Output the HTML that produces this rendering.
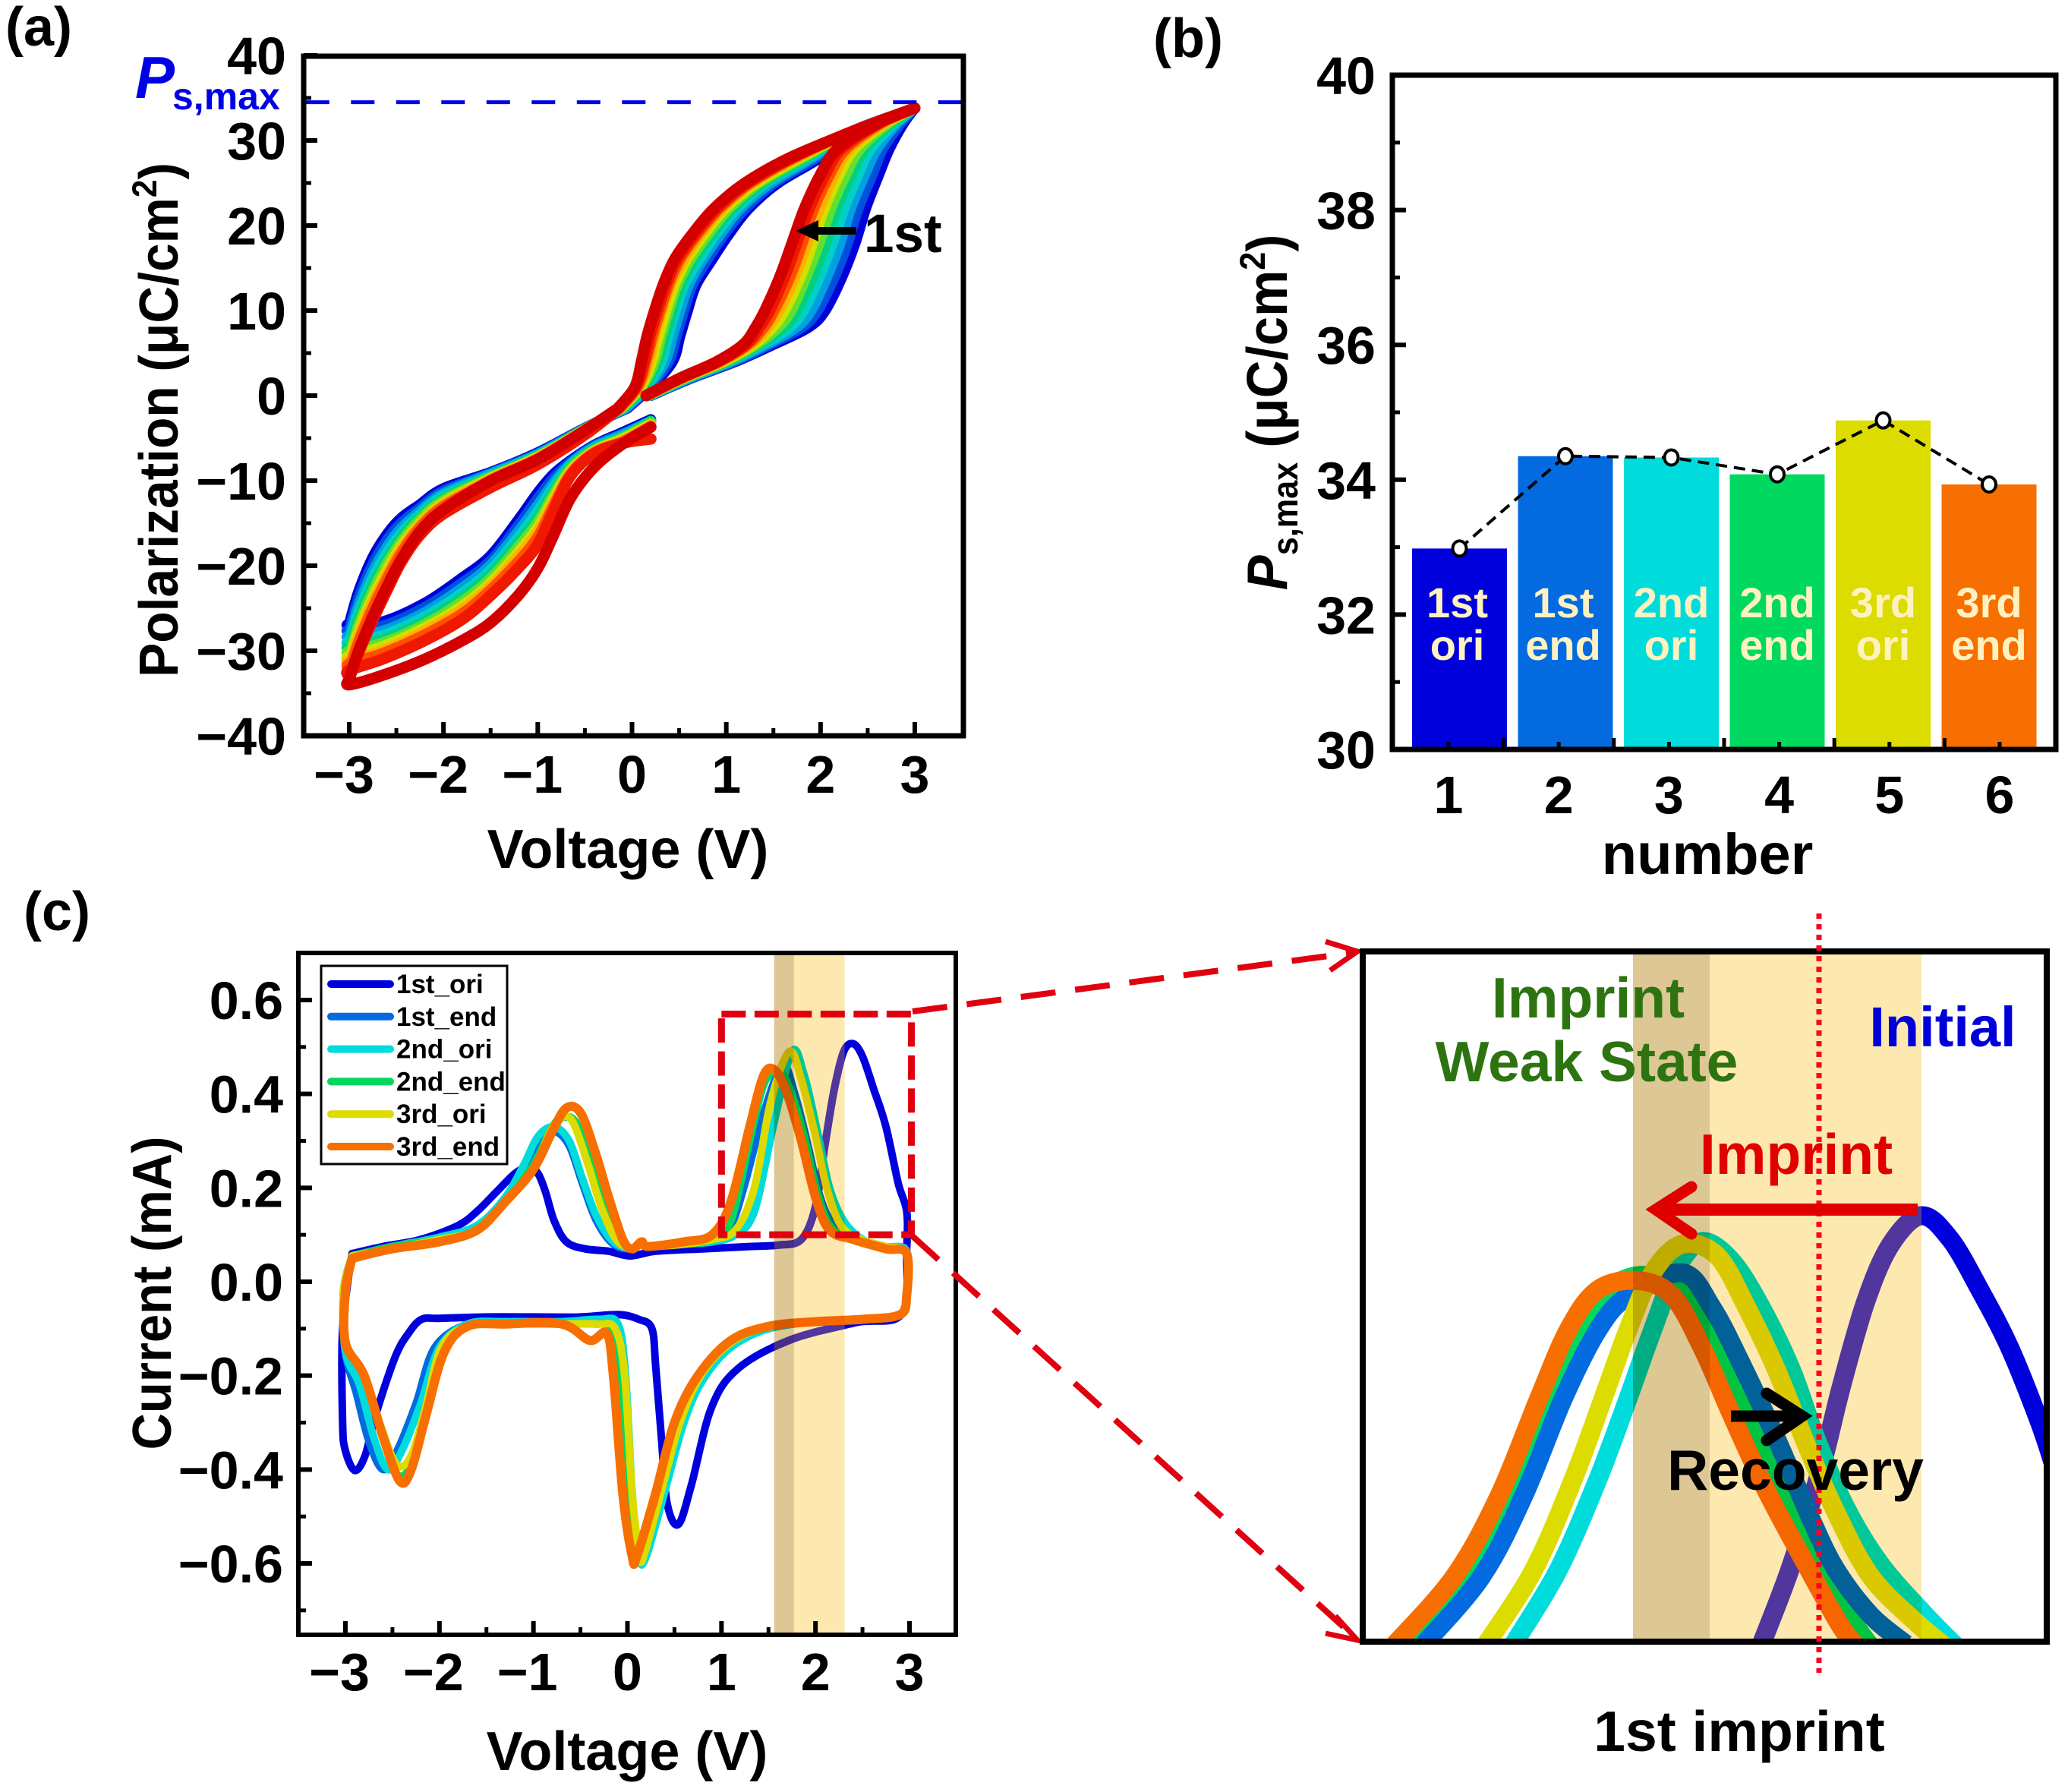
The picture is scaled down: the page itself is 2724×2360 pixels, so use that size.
<!DOCTYPE html>
<html lang="en">
<head>
<meta charset="utf-8">
<title>Polarization and imprint figure</title>
<style>
html,body{margin:0;padding:0;background:#fff;}
svg{display:block;font-family:"Liberation Sans",sans-serif;font-weight:bold;}
text{fill:#000;}
.mult{mix-blend-mode:multiply;}
</style>
</head>
<body>
<svg xmlns="http://www.w3.org/2000/svg" width="2724" height="2360" viewBox="0 0 2724 2360">
<defs>
<clipPath id="clip-d"><rect x="1795" y="1253" width="901" height="909"/></clipPath>
<clipPath id="clip-d-band"><rect x="2151" y="1253" width="380" height="909"/></clipPath>
<clipPath id="clip-c-band"><rect id="clip-c-band-rect" y="1255" height="898"/></clipPath>
<clipPath id="clip-a"><rect x="400" y="74" width="869" height="895"/></clipPath>
</defs>
<rect x="0" y="0" width="2724" height="2360" fill="#fff"/>

<!-- Panel A -->
<g>
<text x="7" y="60" font-size="72">(a)</text>
<g id="a-curves" clip-path="url(#clip-a)"></g>
<line id="a-ref" x1="400" x2="1269" stroke="#0000e6" stroke-width="5" stroke-dasharray="31 28.5" stroke-dashoffset="-2.8"/>
<g id="a-ticks"></g>
<rect x="400" y="74" width="869" height="895" fill="none" stroke="#000" stroke-width="7"/>
<text x="178" y="129" font-size="78" font-style="italic" style="fill:#0000e6">P</text>
<text x="227" y="144" font-size="50" style="fill:#0000e6">s,max</text>
<text x="827" y="1143" font-size="72" text-anchor="middle">Voltage (V)</text>
<text transform="translate(234,553) rotate(-90) scale(.94,1)" font-size="72" text-anchor="middle">Polarization (μC/cm<tspan font-size="45" dy="-28">2</tspan><tspan dy="28">)</tspan></text>
<line x1="1128" y1="304" x2="1070" y2="304" stroke="#000" stroke-width="10"/>
<polygon points="1048,304 1078,290 1078,318" fill="#000"/>
<text x="1138" y="332" font-size="71">1st</text>
</g>

<!-- Panel B -->
<g>
<text x="1519" y="75" font-size="72">(b)</text>
<g id="b-bars"></g>
<g id="b-ticks"></g>
<path id="b-line" fill="none" stroke="#000" stroke-width="4" stroke-dasharray="15 9"/>
<g id="b-points"></g>
<g id="b-labels"></g>
<rect x="1834" y="99" width="874" height="888" fill="none" stroke="#000" stroke-width="7"/>
<text x="2249" y="1151" font-size="76" text-anchor="middle">number</text>
<text transform="translate(1695,543) rotate(-90) scale(.92,1)" font-size="75" text-anchor="middle"><tspan font-style="italic">P</tspan><tspan font-size="47" dy="14">s,max</tspan><tspan dy="-14"> (μC/cm</tspan><tspan font-size="47" dy="-29">2</tspan><tspan dy="29">)</tspan></text>
</g>

<!-- Panel C -->
<g>
<text x="31" y="1225" font-size="72">(c)</text>
<g id="c-curves"></g>
<rect id="c-band-tan" class="mult" fill="#dcc795"/>
<rect id="c-band-yellow" class="mult" fill="#fde8b0"/>
<g id="c-ticks"></g>
<rect x="393" y="1255" width="866" height="898" fill="none" stroke="#000" stroke-width="6"/>
<g id="c-legend">
<rect x="423" y="1272" width="245" height="261" fill="#fff" stroke="#000" stroke-width="3"/>
</g>
<rect id="c-box" fill="none" stroke="#e00010" stroke-width="9" stroke-dasharray="32 11.5"/>
<text x="826" y="2331" font-size="72" text-anchor="middle">Voltage (V)</text>
<text transform="translate(225,1703) rotate(-90) scale(.93,1)" font-size="72" text-anchor="middle">Current (mA)</text>
<path d="M1202 1332 L1780 1255" fill="none" stroke="#e00010" stroke-width="8" stroke-dasharray="46 26"/>
<path d="M1202 1628 L1780 2152" fill="none" stroke="#e00010" stroke-width="8" stroke-dasharray="46 26"/>
<path d="M1746 1240 L1788 1253 L1752 1278" fill="none" stroke="#e00010" stroke-width="7"/>
<path d="M1746 2151 L1788 2160 L1759 2128" fill="none" stroke="#e00010" stroke-width="7"/>
</g>

<!-- Panel D (zoomed) -->
<g>
<g id="d-curves" clip-path="url(#clip-d)"></g>
<rect id="d-band-tan" class="mult" fill="#dcc795"/>
<rect id="d-band-yellow" class="mult" fill="#fde8b0"/>
<rect x="1795" y="1253" width="901" height="909" fill="none" stroke="#000" stroke-width="8"/>
<line x1="2396" y1="1203" x2="2396" y2="2203" stroke="#ff0020" stroke-width="7" stroke-dasharray="7 7"/>
<text x="2092" y="1340" font-size="75" text-anchor="middle" style="fill:#2d7410">Imprint</text>
<text x="2090" y="1424" font-size="75" text-anchor="middle" style="fill:#2d7410">Weak State</text>
<text x="2559" y="1378" font-size="74" text-anchor="middle" style="fill:#0000d8">Initial</text>
<text x="2366" y="1546" font-size="75" text-anchor="middle" style="fill:#e00000">Imprint</text>
<path d="M2526 1593 L2190 1593" fill="none" stroke="#e00000" stroke-width="16"/>
<path d="M2228 1563 L2181 1593 L2228 1625" fill="none" stroke="#e00000" stroke-width="15" stroke-linecap="round" stroke-linejoin="miter" stroke-miterlimit="8"/>
<path d="M2280 1865 L2365 1865" fill="none" stroke="#000" stroke-width="15"/>
<path d="M2327 1835 L2374 1865 L2327 1897" fill="none" stroke="#000" stroke-width="15" stroke-linecap="round" stroke-linejoin="miter" stroke-miterlimit="8"/>
<text x="2365" y="1962" font-size="75" text-anchor="middle">Recovery</text>
<text x="2291" y="2306" font-size="75" text-anchor="middle">1st imprint</text>
</g>
</svg>

<script>
// ---------- Panel (a) data: polarization loops, first cycle to last ----------
const aXTicks = [-3,-2,-1,0,1,2,3];
const aYTicks = [-40,-30,-20,-10,0,10,20,30,40];
const aXMinor = [-2.5,-1.5,-0.5,0.5,1.5,2.5];
const aYMinor = [-35,-25,-15,-5,5,15,25,35];
const psMaxLine = 34.5;
const loopColors = ['#0000d8','#0050e0','#00a0e0','#00d0c8','#00d080','#60e030','#d0e000','#ffb000','#ff5000','#f01800','#d40000'];
const risingP = [0,2,4,6,8,10,14,18,22,26,29,32,33.8];
const risingV = [
[.2,.62,1.1,1.5,1.87,2.05,2.23,2.37,2.48,2.62,2.73,2.88,3],
[.19,.61,1.08,1.46,1.8,1.97,2.15,2.29,2.4,2.55,2.66,2.85,3],
[.19,.59,1.05,1.42,1.74,1.9,2.07,2.21,2.32,2.47,2.6,2.81,3],
[.18,.58,1.03,1.38,1.67,1.82,1.99,2.13,2.25,2.4,2.53,2.78,3],
[.18,.56,1.01,1.35,1.61,1.75,1.92,2.06,2.17,2.33,2.47,2.75,3],
[.17,.55,.99,1.32,1.55,1.69,1.85,1.99,2.11,2.27,2.42,2.72,3],
[.17,.54,.97,1.29,1.49,1.62,1.79,1.92,2.04,2.2,2.36,2.69,3],
[.16,.53,.95,1.26,1.44,1.56,1.73,1.86,1.99,2.15,2.31,2.67,3],
[.16,.52,.93,1.23,1.4,1.51,1.68,1.81,1.93,2.1,2.27,2.64,3],
[.15,.51,.92,1.21,1.35,1.46,1.62,1.75,1.88,2.05,2.22,2.62,3],
[.15,.5,.9,1.18,1.31,1.41,1.57,1.7,1.83,2,2.18,2.6,3]
];
const fallingP = [33.8,31,28,25,22,19,16,13,10,7,4,1,-1.5];
const fallingV = [
[3,2.32,2,1.55,1.24,1.03,.85,.68,.59,.51,.43,.2,-.05],
[3,2.32,1.96,1.51,1.2,.98,.8,.64,.55,.47,.39,.18,-.06],
[3,2.32,1.92,1.47,1.15,.94,.75,.6,.51,.43,.35,.16,-.07],
[3,2.32,1.88,1.42,1.11,.89,.71,.55,.46,.38,.31,.14,-.09],
[3,2.32,1.85,1.39,1.07,.85,.66,.52,.43,.35,.27,.12,-.1],
[3,2.32,1.82,1.35,1.03,.81,.62,.48,.39,.31,.24,.1,-.11],
[3,2.32,1.79,1.32,.99,.77,.58,.45,.36,.28,.21,.09,-.12],
[3,2.32,1.76,1.28,.96,.73,.55,.41,.32,.24,.18,.07,-.13],
[3,2.32,1.73,1.26,.93,.7,.51,.39,.3,.22,.15,.06,-.13],
[3,2.32,1.71,1.23,.9,.67,.48,.36,.27,.19,.13,.04,-.14],
[3,2.33,1.68,1.2,.87,.64,.45,.33,.24,.16,.1,.03,-.15]
];
const descendV = [-.5,-1,-1.5,-2,-2.25,-2.45,-2.6,-2.75,-2.9,-3];
const descendP = [
[-3.8,-6.7,-9,-10.9,-12.8,-14.4,-16.3,-19,-23,-26.8],
[-3.8,-6.8,-9.1,-11.2,-13.2,-15,-17,-19.8,-23.8,-27.6],
[-3.9,-6.9,-9.2,-11.5,-13.6,-15.6,-17.8,-20.7,-24.7,-28.4],
[-3.9,-7,-9.4,-11.8,-14,-16.2,-18.5,-21.5,-25.5,-29.2],
[-3.9,-7.1,-9.5,-12.1,-14.3,-16.7,-19.2,-22.3,-26.3,-29.9],
[-4,-7.2,-9.6,-12.3,-14.6,-17.2,-19.8,-23,-27,-30.6],
[-4,-7.2,-9.7,-12.6,-15,-17.7,-20.5,-23.7,-27.7,-31.2],
[-4,-7.3,-9.8,-12.8,-15.2,-18.1,-21,-24.3,-28.3,-31.8],
[-4.1,-7.4,-10,-13,-15.5,-18.5,-21.5,-24.9,-28.9,-32.3],
[-4.6,-8.1,-10.8,-13.9,-16.4,-19.6,-22.9,-26.4,-30.2,-33],
[-4.1,-7.5,-10,-13.4,-16,-19.3,-22.5,-26,-30,-33.4]
];
const returnV = [-3,-2.65,-2.2,-1.8,-1.5,-1.2,-1,-.84,-.65,-.4,-.1,.2];
const returnP = [
[-27,-26.6,-24.4,-21.4,-18.8,-14.5,-11.4,-9.3,-7.6,-5.8,-4.3,-2.8],
[-27.6,-27.1,-24.9,-22,-19.4,-15.2,-12.1,-9.8,-7.8,-5.9,-4.5,-3],
[-28.3,-27.7,-25.5,-22.6,-19.9,-15.9,-12.9,-10.4,-8,-6,-4.6,-3],
[-28.9,-28.2,-26,-23.2,-20.5,-16.6,-13.6,-10.9,-8.2,-6.2,-4.8,-3],
[-29.5,-28.7,-26.5,-23.7,-21,-17.2,-14.3,-11.4,-8.4,-6.3,-4.9,-3],
[-30,-29.1,-26.9,-24.2,-21.5,-17.7,-14.9,-11.8,-8.6,-6.4,-5,-3.2],
[-30.6,-29.5,-27.3,-24.7,-22,-18.3,-15.5,-12.3,-8.8,-6.5,-5.1,-3.4],
[-31.1,-30,-27.7,-25.1,-22.4,-18.8,-16,-12.7,-9,-6.6,-5.3,-3.5],
[-31.5,-30.3,-28.1,-25.6,-22.8,-19.4,-16.6,-13.1,-9.2,-6.7,-5.4,-3.6],
[-32.3,-31,-28.8,-26.3,-23.5,-20.2,-17.5,-13.7,-9.4,-6.8,-5.6,-5.1],
[-34,-32.9,-31,-28.8,-26.7,-23.4,-20.3,-16.6,-12,-8.4,-5.7,-3.7]
];

// ---------- Panel (b) data ----------
const bCategories = [1,2,3,4,5,6];
const bValues = [32.98,34.35,34.33,34.08,34.88,33.93];
const bColors = ['#0000dc','#036ae0','#00dcdc','#00d860','#dcdc00','#f76f00'];
const bLineOne = ['1st','1st','2nd','2nd','3rd','3rd'];
const bLineTwo = ['ori','end','ori','end','ori','end'];
const bYTicks = [30,32,34,36,38,40];
const bYMinor = [31,33,35,37,39];
const bXMinor = [1.5,2.5,3.5,4.5,5.5];

// ---------- Panel (c) data: current vs voltage sweeps ----------
const cXTicks = [-3,-2,-1,0,1,2,3];
const cYTicks = [-0.6,-0.4,-0.2,0,0.2,0.4,0.6];
const cXMinor = [-2.5,-1.5,-0.5,0.5,1.5,2.5];
const cYMinor = [-0.7,-0.5,-0.3,-0.1,0.1,0.3,0.5];
const seriesNames = ['1st_ori','1st_end','2nd_ori','2nd_end','3rd_ori','3rd_end'];
const seriesColors = ['#0000dc','#036ae0','#00dcdc','#00d860','#dcdc00','#f76f00'];
const imprintBand = [1.56,1.77,2.31];
const zoomBoxV = [1.0,3.02];
const zoomBoxI = [0.57,0.10];
const ori1V = [-2.93,-2.6,-2.2,-1.8,-1.6,-1.4,-1.2,-1.05,-.95,-.87,-.78,-.65,-.45,-.2,.03,.3,.8,1.3,1.6,1.85,2.0,2.1,2.2,2.3,2.4,2.5,2.62,2.75,2.88,2.97,2.97,2.92,2.43,1.73,1.17,.89,.68,.54,.42,.36,.3,.26,.12,-.1,-.5,-1,-1.5,-2,-2.19,-2.33,-2.47,-2.68,-2.79,-2.9,-3,-3.03,-3.03,-2.93];
const ori1I = [.06,.075,.09,.12,.15,.19,.23,.245,.23,.19,.13,.085,.07,.065,.055,.065,.07,.075,.078,.09,.16,.29,.41,.49,.507,.48,.41,.33,.21,.15,.07,-.068,-.087,-.124,-.186,-.27,-.433,-.517,-.47,-.33,-.18,-.1,-.08,-.07,-.075,-.075,-.075,-.078,-.08,-.11,-.16,-.285,-.37,-.402,-.36,-.3,-.1,.06];
const end1V = [-2.93,-2.5,-2,-1.6,-1.3,-1.1,-.95,-.78,-.62,-.48,-.33,-.15,.05,.15,.22,.6,.9,1.1,1.25,1.45,1.65,1.78,1.92,2.05,2.2,2.45,2.75,2.97,2.97,2.9,2.5,2,1.5,1.1,.78,.55,.36,.17,.1,.03,-.05,-.13,-.3,-.7,-1.3,-1.7,-2.05,-2.25,-2.45,-2.6,-2.75,-2.88,-3,-3.02,-2.93];
const end1I = [.055,.075,.09,.115,.17,.24,.3,.32,.29,.21,.13,.08,.07,.08,.075,.08,.09,.12,.21,.36,.46,.4,.29,.18,.12,.09,.07,.065,-.03,-.07,-.08,-.085,-.1,-.135,-.2,-.3,-.43,-.58,-.58,-.45,-.2,-.09,-.08,-.085,-.085,-.09,-.14,-.26,-.36,-.4,-.34,-.24,-.15,-.02,.055];
const ori2V = [-2.93,-2.5,-2,-1.6,-1.3,-1.1,-.95,-.78,-.62,-.48,-.33,-.15,.05,.15,.22,.6,.9,1.15,1.35,1.55,1.75,1.88,2.02,2.15,2.3,2.5,2.75,2.97,2.97,2.9,2.5,2,1.5,1.1,.8,.6,.42,.2,.12,.05,-.02,-.1,-.3,-.7,-1.3,-1.7,-2.0,-2.2,-2.4,-2.55,-2.7,-2.85,-3,-3.02,-2.93];
const ori2I = [.055,.075,.095,.12,.18,.25,.31,.33,.3,.22,.14,.085,.07,.08,.075,.08,.085,.1,.15,.33,.49,.44,.32,.2,.13,.09,.075,.065,-.03,-.07,-.08,-.085,-.1,-.14,-.21,-.3,-.43,-.585,-.585,-.45,-.2,-.09,-.08,-.085,-.085,-.09,-.14,-.26,-.36,-.4,-.33,-.22,-.15,-.02,.055];
const end2V = [-2.93,-2.5,-2,-1.6,-1.3,-1,-.8,-.68,-.55,-.4,-.25,-.1,.05,.15,.22,.6,.9,1.1,1.3,1.45,1.6,1.73,1.88,2.02,2.17,2.42,2.75,2.97,2.97,2.9,2.5,2,1.5,1.1,.76,.52,.33,.13,.07,0,-.08,-.18,-.35,-.7,-1.3,-1.7,-1.98,-2.15,-2.3,-2.45,-2.62,-2.8,-3,-3.02,-2.93];
const end2I = [.055,.075,.09,.11,.17,.25,.33,.35,.34,.26,.16,.09,.07,.08,.075,.08,.09,.13,.3,.42,.45,.41,.31,.19,.115,.09,.07,.06,-.03,-.07,-.08,-.085,-.095,-.13,-.2,-.3,-.44,-.58,-.58,-.45,-.2,-.1,-.09,-.09,-.09,-.095,-.15,-.29,-.39,-.41,-.32,-.2,-.13,-.02,.055];
const ori3V = [-2.93,-2.5,-2,-1.6,-1.3,-1,-.82,-.7,-.58,-.42,-.28,-.12,.05,.15,.22,.6,.9,1.15,1.35,1.52,1.72,1.85,2.0,2.12,2.27,2.48,2.75,2.97,2.97,2.9,2.5,2,1.5,1.1,.78,.56,.38,.18,.13,.05,-.03,-.13,-.32,-.7,-1.3,-1.7,-1.98,-2.15,-2.3,-2.45,-2.62,-2.8,-3,-3.02,-2.93];
const ori3I = [.055,.07,.09,.11,.17,.24,.32,.35,.34,.25,.16,.09,.07,.08,.075,.08,.09,.11,.2,.38,.49,.43,.31,.2,.12,.09,.075,.06,-.03,-.07,-.08,-.085,-.095,-.13,-.2,-.3,-.43,-.58,-.58,-.45,-.2,-.1,-.09,-.09,-.09,-.095,-.14,-.27,-.37,-.39,-.31,-.2,-.13,-.02,.055];
const end3V = [-2.93,-2.5,-2,-1.6,-1.3,-1,-.8,-.65,-.5,-.35,-.2,-.05,.05,.15,.22,.6,.9,1.1,1.3,1.45,1.57,1.7,1.85,2.0,2.15,2.4,2.75,2.97,2.97,2.9,2.5,2,1.5,1.1,.75,.5,.3,.1,.05,-.05,-.15,-.22,-.4,-.7,-1.3,-1.7,-1.95,-2.15,-2.3,-2.42,-2.6,-2.8,-3,-3,-2.93];
const end3I = [.05,.07,.085,.11,.17,.24,.32,.37,.36,.28,.18,.09,.07,.085,.075,.085,.1,.17,.33,.44,.45,.4,.3,.18,.11,.09,.07,.06,-.03,-.07,-.08,-.085,-.095,-.125,-.2,-.3,-.45,-.585,-.585,-.45,-.2,-.11,-.125,-.09,-.09,-.095,-.15,-.29,-.4,-.425,-.33,-.2,-.13,-.02,.05];

// ---------- Zoomed panel data: forward peak of each sweep, volts and mA ----------
const zoomOri1V = [1.894,1.972,2.049,2.101,2.165,2.230,2.309,2.384,2.461,2.539,2.616,2.655];
const zoomOri1I = [.175,.236,.311,.373,.439,.483,.505,.487,.448,.403,.346,.311];
const zoomOri2V = [1.250,1.366,1.469,1.547,1.611,1.675,1.740,1.817,1.894,1.972,2.036,2.113,2.204,2.320,2.410];
const zoomOri2I = [.175,.232,.302,.364,.417,.465,.485,.470,.434,.386,.333,.280,.236,.197,.170];
const zoomOri3V = [1.179,1.302,1.405,1.482,1.547,1.611,1.688,1.779,1.856,1.933,2.010,2.088,2.178,2.294,2.384];
const zoomOri3I = [.175,.232,.302,.364,.417,.461,.483,.474,.434,.386,.329,.276,.227,.192,.170];
const zoomEnd1V = [1.018,1.167,1.276,1.379,1.469,1.547,1.688,1.766,1.843,1.933,2.023,2.088,2.178,2.268];
const zoomEnd1I = [.175,.227,.289,.364,.417,.443,.461,.434,.390,.333,.271,.232,.197,.175];
const zoomEnd2V = [.96,1.118,1.236,1.34,1.417,1.495,1.585,1.695,1.775,1.852,1.94,2.04,2.125,2.18];
const zoomEnd2I = [.175,.227,.289,.364,.417,.448,.459,.448,.41,.36,.30,.24,.195,.172];
const zoomEnd3V = [.941,1.096,1.212,1.315,1.392,1.469,1.572,1.663,1.740,1.817,1.907,2.010,2.101,2.152];
const zoomEnd3I = [.1745,.227,.289,.364,.417,.448,.455,.443,.403,.351,.293,.236,.188,.170];

// ---------- Helpers ----------
const NS = 'http://www.w3.org/2000/svg';
function scale(d0,d1,r0,r1){ return function(v){ return r0 + (v-d0)*(r1-r0)/(d1-d0); }; }
function mk(tag,parent,attrs){
  const n = document.createElementNS(NS,tag);
  for(const k in attrs){ n.setAttribute(k,attrs[k]); }
  parent.appendChild(n);
  return n;
}
function smooth(p){
  let d = 'M'+p[0][0].toFixed(1)+' '+p[0][1].toFixed(1);
  for(let i=0;i<p.length-1;i++){
    const a=p[Math.max(i-1,0)], b=p[i], c=p[i+1], e=p[Math.min(i+2,p.length-1)];
    const c1x=b[0]+(c[0]-a[0])/6, c1y=b[1]+(c[1]-a[1])/6;
    const c2x=c[0]-(e[0]-b[0])/6, c2y=c[1]-(e[1]-b[1])/6;
    d+=' C'+c1x.toFixed(1)+' '+c1y.toFixed(1)+' '+c2x.toFixed(1)+' '+c2y.toFixed(1)+' '+c[0].toFixed(1)+' '+c[1].toFixed(1);
  }
  return d;
}
function fmt(v,dec){ const s=Math.abs(v).toFixed(dec); return (v<0?'\u2212':'')+s; }
function $(id){ return document.getElementById(id); }

// ---------- Panel (a) ----------
const xA = scale(-3,3,460,1205);
const yA = scale(-40,40,969,73);
$('a-ref').setAttribute('y1',yA(psMaxLine));
$('a-ref').setAttribute('y2',yA(psMaxLine));
loopColors.forEach(function(color,k){
  const A = risingV[k].map(function(v,i){ return [xA(v),yA(risingP[i])]; });
  const B = fallingV[k].map(function(v,i){ return [xA(v),yA(fallingP[i])]; });
  const C = descendP[k].map(function(p,i){ return [xA(descendV[i]),yA(p)]; });
  const D = returnP[k].map(function(p,i){ return [xA(returnV[i]),yA(p)]; });
  C.unshift(B[B.length-1]);
  D.unshift(C[C.length-1]);
  const path = mk('path',$('a-curves'),{d:smooth(A)+' '+smooth(B)+' '+smooth(C)+' '+smooth(D),fill:'none',stroke:color,'stroke-width':k>=9?15:14,'stroke-linecap':'round','stroke-linejoin':'round'});
  
  
});
aXTicks.forEach(function(v){
  const t = mk('line',$('a-ticks'),{x1:xA(v),x2:xA(v),y1:969,y2:951,stroke:'#000','stroke-width':6});
  
  
  const l = mk('text',$('a-ticks'),{x:xA(v)-(v<0?7:0),y:1044,'font-size':70,'text-anchor':'middle'});
  l.textContent = fmt(v,0);
  
  
});
aXMinor.forEach(function(v){
  const t = mk('line',$('a-ticks'),{x1:xA(v),x2:xA(v),y1:969,y2:959,stroke:'#000','stroke-width':5});
  
  
});
aYTicks.forEach(function(v){
  const t = mk('line',$('a-ticks'),{x1:400,x2:418,y1:yA(v),y2:yA(v),stroke:'#000','stroke-width':6});
  
  
  const l = mk('text',$('a-ticks'),{x:377,y:yA(v)+25,'font-size':70,'text-anchor':'end'});
  l.textContent = fmt(v,0);
  
  
});
aYMinor.forEach(function(v){
  const t = mk('line',$('a-ticks'),{x1:400,x2:410,y1:yA(v),y2:yA(v),stroke:'#000','stroke-width':5});
  
  
});

// ---------- Panel (b) ----------
const yB = scale(30,40,987,99);
const xBTick = scale(1,6,1908,2634);
const xBBar = scale(1,6,1922.5,2620);
const barWidth = 125;
bValues.forEach(function(v,i){
  const cat = bCategories[i];
  const bar = mk('rect',$('b-bars'),{x:xBBar(cat)-barWidth/2,y:yB(v),width:barWidth,height:yB(30)-yB(v),fill:bColors[i]});
  
  
  const labelX = xBBar(cat) - (cat<=2 ? 3 : 0);
  const t1 = mk('text',$('b-labels'),{x:labelX,y:813,'font-size':56,'text-anchor':'middle',style:'fill:#fff2c0'});
  t1.textContent = bLineOne[i];
  
  
  const t2 = mk('text',$('b-labels'),{x:labelX,y:869,'font-size':56,'text-anchor':'middle',style:'fill:#fff2c0'});
  t2.textContent = bLineTwo[i];
  
  
});
$('b-line').setAttribute('d',bValues.map(function(v,i){ return (i?'L':'M')+xBBar(bCategories[i])+' '+yB(v); }).join(' '));
bValues.forEach(function(v,i){
  const c = mk('ellipse',$('b-points'),{cx:xBBar(bCategories[i]),cy:yB(v),rx:9,ry:10,fill:'#fff',stroke:'#000','stroke-width':4});
  
  
});
bCategories.forEach(function(n){
  const t = mk('line',$('b-ticks'),{x1:xBTick(n),x2:xBTick(n),y1:987,y2:977,stroke:'#000','stroke-width':5});
  
  
  const l = mk('text',$('b-ticks'),{x:xBTick(n),y:1071,'font-size':70,'text-anchor':'middle'});
  l.textContent = n;
  
  
});
bXMinor.forEach(function(n){
  const t = mk('line',$('b-ticks'),{x1:xBTick(n),x2:xBTick(n),y1:987,y2:972,stroke:'#000','stroke-width':5});
  
  
});
bYTicks.forEach(function(v){
  const t = mk('line',$('b-ticks'),{x1:1834,x2:1852,y1:yB(v),y2:yB(v),stroke:'#000','stroke-width':6});
  
  
  const l = mk('text',$('b-ticks'),{x:1812,y:yB(v)+25,'font-size':70,'text-anchor':'end'});
  l.textContent = v;
  
  
});
bYMinor.forEach(function(v){
  const t = mk('line',$('b-ticks'),{x1:1834,x2:1844,y1:yB(v),y2:yB(v),stroke:'#000','stroke-width':5});
  
  
});

// ---------- Panel (c) ----------
const xC = scale(-3,3,455,1198);
const yC = scale(-0.6,0.6,2059,1317);
const cSeriesV = [ori1V,end1V,ori2V,end2V,ori3V,end3V];
const cSeriesI = [ori1I,end1I,ori2I,end2I,ori3I,end3I];
$('clip-c-band-rect').setAttribute('x',xC(imprintBand[0]));
$('clip-c-band-rect').setAttribute('width',xC(imprintBand[2])-xC(imprintBand[0]));
cSeriesV.forEach(function(vs,k){
  const pts = vs.map(function(v,i){ return [xC(v),yC(cSeriesI[k][i])]; });
  const p = mk('path',$('c-curves'),{d:smooth(pts),fill:'none',stroke:seriesColors[k],'stroke-width':k===5?12:10,'stroke-linejoin':'round','stroke-linecap':'round'});
  
  
  if(k===0){
    const tint = mk('path',$('c-curves'),{d:smooth(pts),fill:'none',stroke:'#513be5','stroke-width':10,'clip-path':'url(#clip-c-band)'});
    
    
  }
});
$('c-band-tan').setAttribute('x',xC(imprintBand[0]));
$('c-band-tan').setAttribute('width',xC(imprintBand[1])-xC(imprintBand[0]));
$('c-band-yellow').setAttribute('x',xC(imprintBand[1]));
$('c-band-yellow').setAttribute('width',xC(imprintBand[2])-xC(imprintBand[1]));
['c-band-tan','c-band-yellow'].forEach(function(id){
  $(id).setAttribute('y',1255);
  $(id).setAttribute('height',898);
});
$('c-box').setAttribute('x',xC(zoomBoxV[0]));
$('c-box').setAttribute('y',yC(zoomBoxI[0]));
$('c-box').setAttribute('width',xC(zoomBoxV[1])-xC(zoomBoxV[0]));
$('c-box').setAttribute('height',yC(zoomBoxI[1])-yC(zoomBoxI[0]));
cXTicks.forEach(function(v){
  const t = mk('line',$('c-ticks'),{x1:xC(v),x2:xC(v),y1:2153,y2:2135,stroke:'#000','stroke-width':6});
  
  
  const l = mk('text',$('c-ticks'),{x:xC(v)-(v<0?8:0),y:2226,'font-size':70,'text-anchor':'middle'});
  l.textContent = fmt(v,0);
  
  
});
cXMinor.forEach(function(v){
  const t = mk('line',$('c-ticks'),{x1:xC(v),x2:xC(v),y1:2153,y2:2143,stroke:'#000','stroke-width':5});
  
  
});
cYTicks.forEach(function(v){
  const t = mk('line',$('c-ticks'),{x1:393,x2:411,y1:yC(v),y2:yC(v),stroke:'#000','stroke-width':6});
  
  
  const l = mk('text',$('c-ticks'),{x:373,y:yC(v)+25,'font-size':70,'text-anchor':'end'});
  l.textContent = fmt(v,1);
  
  
});
cYMinor.forEach(function(v){
  const t = mk('line',$('c-ticks'),{x1:393,x2:403,y1:yC(v),y2:yC(v),stroke:'#000','stroke-width':5});
  
  
});
seriesNames.forEach(function(name,k){
  const rowY = 1296 + k*42.8;
  const sw = mk('line',$('c-legend'),{x1:436,x2:514,y1:rowY,y2:rowY,stroke:seriesColors[k],'stroke-width':10,'stroke-linecap':'round'});
  
  
  const tx = mk('text',$('c-legend'),{x:522,y:rowY+12,'font-size':35});
  tx.textContent = name;
  
  
});

// ---------- Zoomed panel ----------
const xD = scale(1.56,2.56,2151,2658);
const yD = scale(.505,.205,1601,2113.7);
const initialPts = zoomOri1V.map(function(v,i){ return [xD(v),yD(zoomOri1I[i])]; });
const initialLine = mk('path',$('d-curves'),{d:smooth(initialPts),fill:'none',stroke:seriesColors[0],'stroke-width':25,'stroke-linejoin':'round'});


const initialTint = mk('path',$('d-curves'),{d:smooth(initialPts),fill:'none',stroke:'#513be5','stroke-width':25,'stroke-linejoin':'round','clip-path':'url(#clip-d-band)'});


const dSeries = [
  {v:zoomOri2V,i:zoomOri2I,c:seriesColors[2],n:'zoom-2nd-ori'},
  {v:zoomEnd2V,i:zoomEnd2I,c:seriesColors[3],n:'zoom-2nd-end'},
  {v:zoomEnd1V,i:zoomEnd1I,c:seriesColors[1],n:'zoom-1st-end'},
  {v:zoomOri3V,i:zoomOri3I,c:seriesColors[4],n:'zoom-3rd-ori'},
  {v:zoomEnd3V,i:zoomEnd3I,c:seriesColors[5],n:'zoom-3rd-end'}
];
dSeries.forEach(function(s){
  const pts = s.v.map(function(v,i){ return [xD(v),yD(s.i[i])]; });
  const p = mk('path',$('d-curves'),{d:smooth(pts),fill:'none',stroke:s.c,'stroke-width':25,'stroke-linejoin':'round'});
  
  
});
$('d-band-tan').setAttribute('x',2151);
$('d-band-tan').setAttribute('width',101);
$('d-band-yellow').setAttribute('x',2252);
$('d-band-yellow').setAttribute('width',279);
['d-band-tan','d-band-yellow'].forEach(function(id){
  $(id).setAttribute('y',1253);
  $(id).setAttribute('height',909);
});
</script>
</body>
</html>
